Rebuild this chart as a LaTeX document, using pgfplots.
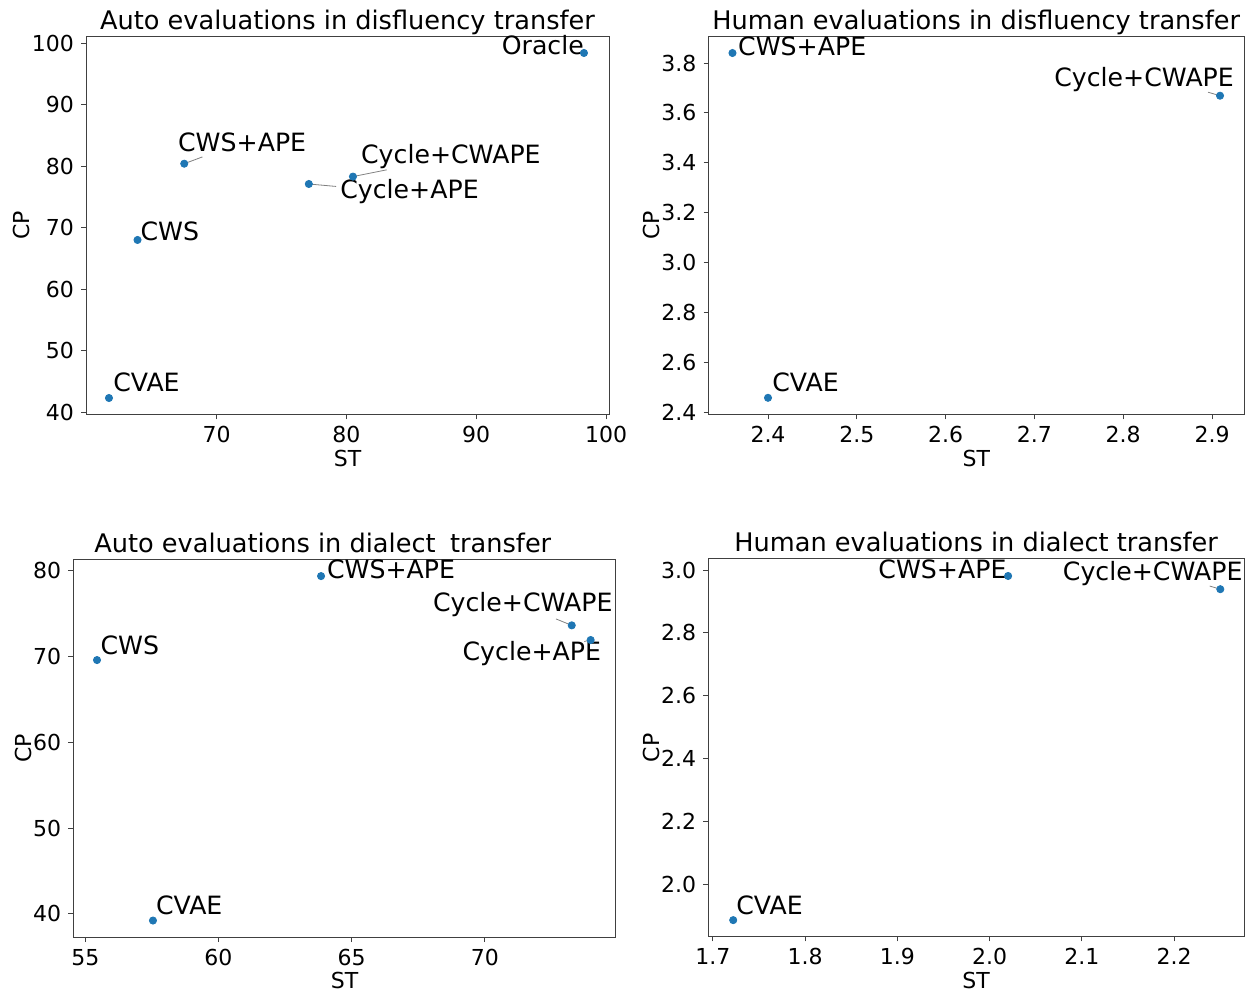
\documentclass[border=0pt]{standalone}
\usepackage{fontspec}
\setmainfont{DejaVu Sans}
\usepackage{pgfplots}
\pgfplotsset{compat=1.18}
\definecolor{mplblue}{HTML}{1F77B4}
\pgfplotsset{
  myax/.style={
    scale only axis, anchor=south west,
    axis line style={black!75, line width=0.5pt},
    tick align=outside, xtick pos=bottom, ytick pos=left,
    major tick length=2.5pt,
    tick style={black!75, line width=0.5pt},
    tick label style={font=\fontsize{11}{13}\selectfont},
    label style={font=\fontsize{11}{13}\selectfont},
    every axis title/.style={font=\fontsize{12.8}{15}\selectfont, at={(0.5,1)}, anchor=base, yshift=3.6pt, inner sep=0pt},
    /pgf/number format/assume math mode=true,
    xlabel=ST, ylabel=CP,
    xlabel shift=-3.5pt, ylabel shift=-6pt,
    clip=false,
  },
  pts/.style={only marks, mark=*, mark size=1.8pt, color=mplblue, mark options={draw=mplblue, fill=mplblue}},
  onedec/.style={/pgf/number format/.cd, fixed, fixed zerofill, precision=1},
}
\tikzset{
  lab/.style={anchor=base west, inner sep=0pt, font=\fontsize{12.6}{14}\selectfont},
  con/.style={draw=gray, line width=0.4pt},
}
\begin{document}
\begin{tikzpicture}
\useasboundingbox (0,0) rectangle (627.5pt,496pt);

% Top-left
\begin{axis}[myax, at={(43pt,288.75pt)}, width=261.5pt, height=189pt,
  title={Auto evaluations in disfluency transfer},
  xmin=59.93, xmax=100.23, ymin=39.62, ymax=101.08,
  xtick={70,80,90,100}, ytick={40,50,60,70,80,90,100}]
\addplot[pts] coordinates {(98.3,98.4) (67.5,80.4) (63.9,68.0) (61.7,42.3) (77.1,77.1) (80.5,78.3)};
\draw[con] (axis cs:67.5,80.4) -- (axis cs:68.9,81.5);
\draw[con] (axis cs:80.5,78.3) -- (axis cs:83.1,79.4);
\draw[con] (axis cs:77.1,77.1) -- (axis cs:79.2,76.7);
\node[lab] at (axis cs:91.94,98.1) {Oracle};
\node[lab] at (axis cs:67.0,82.4) {CWS+APE};
\node[lab] at (axis cs:81.1,80.5) {Cycle+CWAPE};
\node[lab] at (axis cs:79.5,74.8) {Cycle+APE};
\node[lab] at (axis cs:64.1,67.9) {CWS};
\node[lab] at (axis cs:62.0,43.3) {CVAE};
\end{axis}

% Top-right
\begin{axis}[myax, at={(354.25pt,288.85pt)}, width=267.75pt, height=189pt,
  title={Human evaluations in disfluency transfer},
  xmin=2.333, xmax=2.936, ymin=2.393, ymax=3.907,
  xtick={2.4,2.5,2.6,2.7,2.8,2.9}, ytick={2.4,2.6,2.8,3.0,3.2,3.4,3.6,3.8},
  xticklabel style={onedec}, yticklabel style={onedec}]
\addplot[pts] coordinates {(2.36,3.84) (2.40,2.459) (2.909,3.669)};
\draw[con] (axis cs:2.909,3.669) -- (axis cs:2.8955,3.683);
\node[lab] at (axis cs:2.366,3.831) {CWS+APE};
\node[lab] at (axis cs:2.722,3.704) {Cycle+CWAPE};
\node[lab] at (axis cs:2.4045,2.484) {CVAE};
\end{axis}

% Bottom-left
\begin{axis}[myax, at={(36.65pt,27.5pt)}, width=271.2pt, height=188.85pt,
  title={Auto evaluations in dialect\hspace{0.25em} transfer},
  title style={at={(0.46,1)}},
  xmin=54.55, xmax=74.91, ymin=37.28, ymax=81.36,
  xtick={55,60,65,70}, ytick={40,50,60,70,80}]
\addplot[pts] coordinates {(63.85,79.4) (55.44,69.6) (57.54,39.2) (73.26,73.65) (73.97,71.94)};
\draw[con] (axis cs:73.26,73.65) -- (axis cs:72.67,74.4);
\draw[con] (axis cs:73.97,71.94) -- (axis cs:73.73,71.77);
\node[lab] at (axis cs:64.06,79.15) {CWS+APE};
\node[lab] at (axis cs:68.04,75.26) {Cycle+CWAPE};
\node[lab] at (axis cs:69.15,69.5) {Cycle+APE};
\node[lab] at (axis cs:55.56,70.2) {CWS};
\node[lab] at (axis cs:57.64,39.9) {CVAE};
\end{axis}

% Bottom-right
\begin{axis}[myax, at={(354.15pt,27.75pt)}, width=267.85pt, height=188.75pt,
  title={Human evaluations in dialect transfer},
  xmin=1.695, xmax=2.2757, ymin=1.835, ymax=3.035,
  xtick={1.7,1.8,1.9,2.0,2.1,2.2}, ytick={2.0,2.2,2.4,2.6,2.8,3.0},
  xticklabel style={onedec}, yticklabel style={onedec}]
\addplot[pts] coordinates {(2.02,2.981) (2.25,2.939) (1.722,1.887)};
\draw[con] (axis cs:2.25,2.939) -- (axis cs:2.2385,2.949);
\node[lab] at (axis cs:1.879,2.974) {CWS+APE};
\node[lab] at (axis cs:2.079,2.966) {Cycle+CWAPE};
\node[lab] at (axis cs:1.725,1.906) {CVAE};
\end{axis}
\end{tikzpicture}
\end{document}
